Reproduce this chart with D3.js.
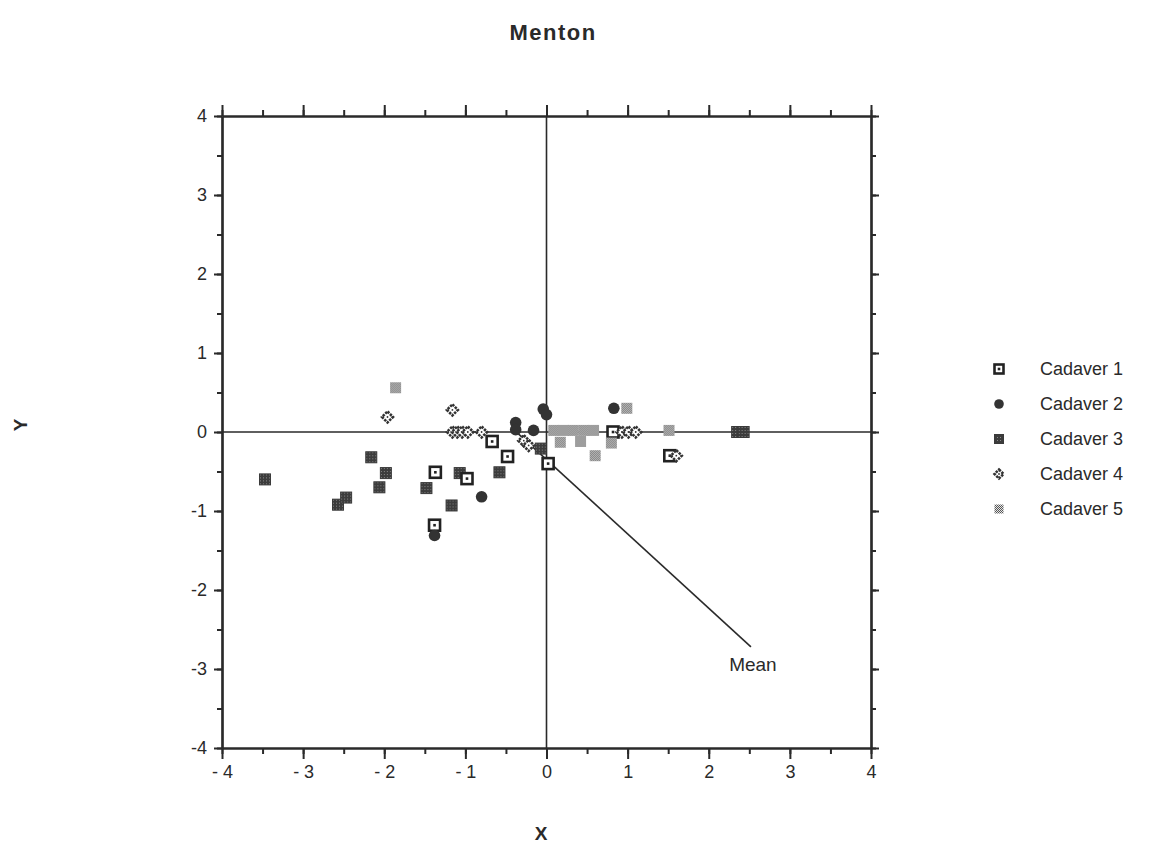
<!DOCTYPE html>
<html><head><meta charset="utf-8">
<script src="https://cdn.jsdelivr.net/npm/d3@7/dist/d3.min.js"></script>
<style>body{margin:0;background:#fff}svg{font-family:"Liberation Sans",Arial,sans-serif}</style>
</head><body><svg id="c" width="1158" height="852"></svg>
<script>
const seriesNames = ["Cadaver 1","Cadaver 2","Cadaver 3","Cadaver 4","Cadaver 5"];
const cad1 = [[-1.37,-0.51],[-0.98,-0.59],[-0.67,-0.12],[-0.48,-0.31],[-1.38,-1.18],[0.02,-0.40],[1.52,-0.30],[0.82,0.0]];
const cad2 = [[-1.38,-1.31],[-0.80,-0.82],[0.83,0.30],[-0.38,0.12],[-0.38,0.03],[-0.04,0.29],[0.0,0.22],[-0.16,0.02]];
const cad3 = [[-3.47,-0.60],[-2.57,-0.92],[-2.47,-0.83],[-2.16,-0.32],[-1.98,-0.52],[-2.06,-0.70],[-1.48,-0.71],[-1.07,-0.52],[-1.17,-0.93],[-0.58,-0.51],[-0.07,-0.21],[2.35,0.0],[2.43,0.0]];
const cad4 = [[-1.96,0.19],[-1.16,0.28],[-1.16,0.0],[-1.10,0.0],[-1.04,0.0],[-0.97,0.0],[-0.80,0.0],[-0.28,-0.11],[-0.22,-0.17],[1.60,-0.30],[0.93,0.0],[1.01,0.0],[1.10,0.0]];
const cad5 = [[-1.86,0.56],[0.99,0.30],[0.17,-0.13],[0.42,-0.12],[0.60,-0.30],[0.80,-0.14],[1.51,0.02],[0.09,0.02],[0.21,0.02],[0.33,0.02],[0.46,0.02],[0.58,0.02]];
const xTicks = [-4,-3,-2,-1,0,1,2,3,4];
const xTickLabels = ["- 4","- 3","- 2","- 1","0","1","2","3","4"];
const yTicks = [-4,-3,-2,-1,0,1,2,3,4];
const yTickLabels = ["-4","-3","-2","-1","0","1","2","3","4"];
const meanStart = [-0.35,-0.02];
const meanEnd = [2.52,-2.72];

const svg = d3.select("#c");
const x = d3.scaleLinear().domain([-4,4]).range([222,871]);
const y = d3.scaleLinear().domain([-4,4]).range([748,116]);
const ink = "#2a2a2a";

const defs = svg.append("defs");
const p5 = defs.append("pattern").attr("id","speck5").attr("width",2).attr("height",2).attr("patternUnits","userSpaceOnUse");
p5.append("rect").attr("width",2).attr("height",2).attr("fill","#e6e6e6");
p5.append("rect").attr("width",1).attr("height",1).attr("fill","#555");
p5.append("rect").attr("x",1).attr("y",1).attr("width",1).attr("height",1).attr("fill","#555");
const p3 = defs.append("pattern").attr("id","speck3").attr("width",3).attr("height",3).attr("patternUnits","userSpaceOnUse");
p3.append("rect").attr("width",3).attr("height",3).attr("fill","#3c3c3c");
p3.append("rect").attr("x",1).attr("y",1).attr("width",1).attr("height",1).attr("fill","#8a8a8a");

svg.append("text").attr("x",553).attr("y",40).attr("text-anchor","middle")
  .attr("font-size",22).attr("font-weight","bold").attr("letter-spacing",1.5).attr("fill",ink).text("Menton");

svg.append("line").attr("x1",x(0)).attr("x2",x(0)).attr("y1",y(4)).attr("y2",y(-4)).attr("stroke",ink).attr("stroke-width",1.6);
svg.append("line").attr("x1",x(-4)).attr("x2",x(4)).attr("y1",y(0)).attr("y2",y(0)).attr("stroke",ink).attr("stroke-width",1.6);

const minor = d3.range(-4,4.01,0.5);
function drawAxis(axisGen, transform){
  const g = svg.append("g").attr("transform",transform).call(axisGen);
  g.select(".domain").attr("stroke",ink).attr("stroke-width",2.2);
  g.selectAll(".tick line").attr("stroke",ink).attr("stroke-width",2);
  g.selectAll("text").attr("fill",ink).attr("font-size",18);
  return g;
}
drawAxis(d3.axisBottom(x).tickValues(minor).tickSize(6).tickSizeOuter(0).tickFormat(""),`translate(0,${y(-4)})`);
drawAxis(d3.axisTop(x).tickValues(minor).tickSize(6).tickSizeOuter(0).tickFormat(""),`translate(0,${y(4)})`);
drawAxis(d3.axisLeft(y).tickValues(minor).tickSize(5).tickSizeOuter(0).tickFormat(""),`translate(${x(-4)},0)`);
drawAxis(d3.axisRight(y).tickValues(minor).tickSize(5).tickSizeOuter(0).tickFormat(""),`translate(${x(4)},0)`);
drawAxis(d3.axisBottom(x).tickValues(xTicks).tickSize(11).tickSizeOuter(0).tickPadding(6).tickFormat((d,i)=>xTickLabels[i]),`translate(0,${y(-4)})`);
drawAxis(d3.axisTop(x).tickValues(xTicks).tickSize(11).tickSizeOuter(0).tickFormat(""),`translate(0,${y(4)})`);
drawAxis(d3.axisLeft(y).tickValues(yTicks).tickSize(8).tickSizeOuter(0).tickPadding(7).tickFormat((d,i)=>yTickLabels[i]),`translate(${x(-4)},0)`);
drawAxis(d3.axisRight(y).tickValues(yTicks).tickSize(8).tickSizeOuter(0).tickFormat(""),`translate(${x(4)},0)`);

svg.append("text").attr("x",541).attr("y",840).attr("text-anchor","middle").attr("font-size",19).attr("font-weight","bold").attr("fill",ink).text("X");
svg.append("text").attr("transform","translate(27,425) rotate(-90)").attr("text-anchor","middle").attr("font-size",19).attr("font-weight","bold").attr("fill",ink).text("Y");

svg.append("line").attr("x1",x(meanStart[0])).attr("y1",y(meanStart[1])).attr("x2",x(meanEnd[0])).attr("y2",y(meanEnd[1])).attr("stroke",ink).attr("stroke-width",1.6);
svg.append("text").attr("x",x(meanEnd[0])+2).attr("y",y(meanEnd[1])+24).attr("text-anchor","middle").attr("font-size",19).attr("fill",ink).text("Mean");

function sym(g, k, s){
  if(k===0){
    g.append("rect").attr("x",-s).attr("y",-s).attr("width",2*s).attr("height",2*s).attr("fill","#fff").attr("stroke","#222").attr("stroke-width",2.6);
    g.append("rect").attr("x",-1.3).attr("y",-1.3).attr("width",2.6).attr("height",2.6).attr("fill","#222");
  } else if(k===1){
    g.append("circle").attr("r",s+0.3).attr("fill","#333");
  } else if(k===2){
    g.append("rect").attr("x",-s).attr("y",-s).attr("width",2*s).attr("height",2*s).attr("fill","url(#speck3)").attr("stroke","#3a3a3a").attr("stroke-width",1);
  } else if(k===3){
    g.append("path").attr("d",`M0,${-s}L${s},0L0,${s}L${-s},0Z`).attr("fill","#fff").attr("stroke","#333").attr("stroke-width",2.6).attr("stroke-dasharray","2.5,1");
    g.append("circle").attr("r",0.9).attr("fill","#333");
  } else {
    g.append("rect").attr("x",-s).attr("y",-s).attr("width",2*s).attr("height",2*s).attr("fill","url(#speck5)");
  }
}
const all = [cad1,cad2,cad3,cad4,cad5];
const order = [2,0,1,3,4];
order.forEach(k=>{
  svg.append("g").selectAll("g").data(all[k]).join("g")
    .attr("transform",d=>`translate(${x(d[0])},${y(d[1])})`)
    .each(function(){ sym(d3.select(this),k,5.5); });
});

const lg = svg.append("g");
seriesNames.forEach((n,i)=>{
  const yy = 369 + i*35;
  const g = lg.append("g").attr("transform",`translate(999,${yy})`);
  sym(g,i,4.5);
  lg.append("text").attr("x",1040).attr("y",yy+6).attr("font-size",18).attr("fill",ink).text(n);
});
</script></body></html>
